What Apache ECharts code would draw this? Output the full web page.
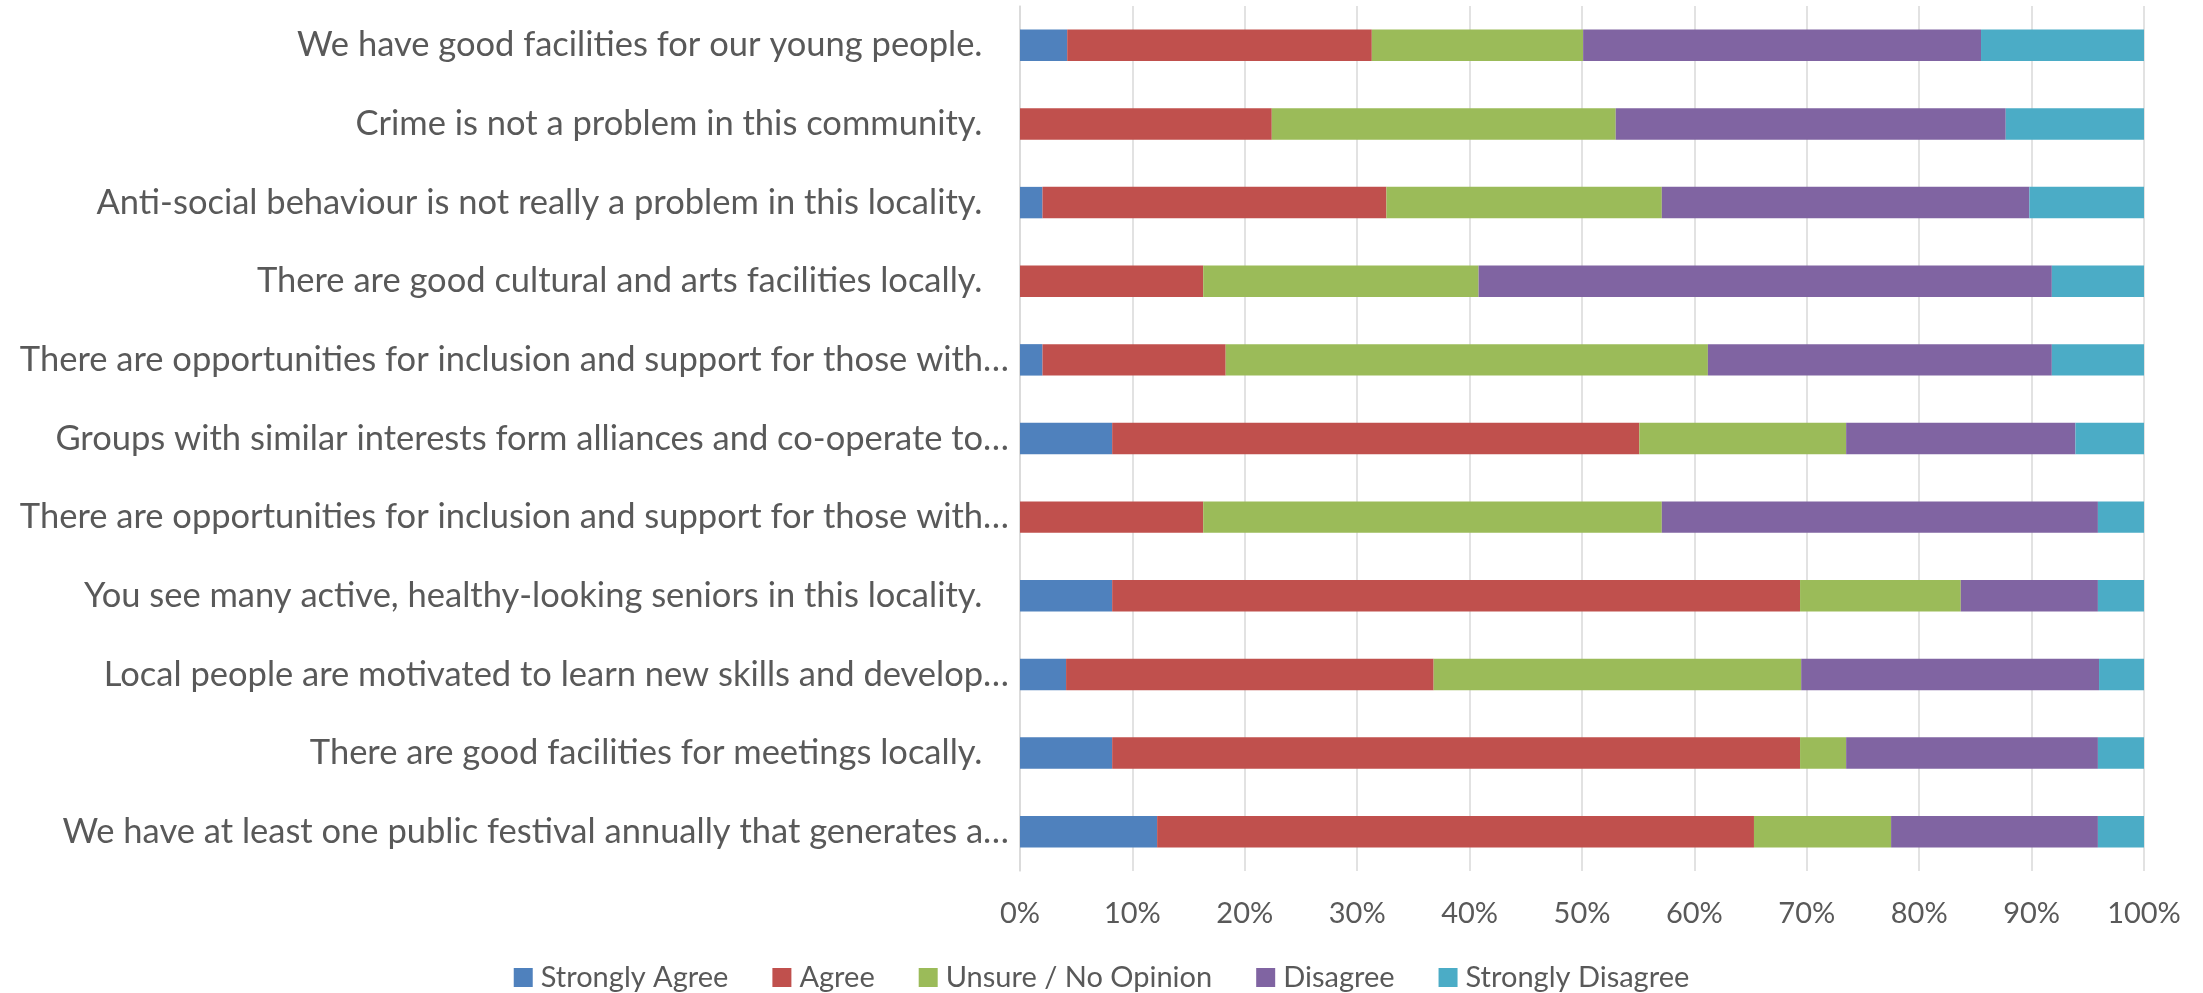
<!DOCTYPE html>
<html>
<head>
<meta charset="utf-8">
<script src="https://cdn.jsdelivr.net/npm/echarts@6/dist/echarts.min.js"></script>
<style>html,body{margin:0;padding:0;background:#fff}#c{width:2203px;height:993px}</style>
</head>
<body>
<div id="c"></div>
<script>
const categories = [
  "We have good facilities for our young people.   ",
  "Crime is not a problem in this community.   ",
  "Anti-social behaviour is not really a problem in this locality.   ",
  "There are good cultural and arts facilities locally.   ",
  "There are opportunities for inclusion and support for those with…",
  "Groups with similar interests form alliances and co-operate to…",
  "There are opportunities for inclusion and support for those with…",
  "You see many active, healthy-looking seniors in this locality.   ",
  "Local people are motivated to learn new skills and develop…",
  "There are good facilities for meetings locally.   ",
  "We have at least one public festival annually that generates a…"
];
const stronglyAgree    = [4.2, 0,    2.0,  0,    2.0,  8.2,  0,    8.2,  4.1,  8.2,  12.2];
const agree            = [27.1, 22.4, 30.6, 16.3, 16.3, 46.9, 16.3, 61.2, 32.7, 61.2, 53.1];
const unsure           = [18.8, 30.6, 24.5, 24.5, 42.9, 18.4, 40.8, 14.3, 32.7, 4.1,  12.2];
const disagree         = [35.4, 34.7, 32.7, 51.0, 30.6, 20.4, 38.8, 12.2, 26.5, 22.4, 18.4];
const stronglyDisagree = [14.6, 12.3, 10.2, 8.2,  8.2,  6.1,  4.1,  4.1,  4.1,  4.1,  4.1];
const seriesNames = ["Strongly Agree", "Agree", "Unsure / No Opinion", "Disagree", "Strongly Disagree"];
const seriesData = [stronglyAgree, agree, unsure, disagree, stronglyDisagree];
const colors = ["#4F81BD", "#C0504D", "#9BBB59", "#8064A2", "#4BACC6"];

const FONT = "Lato";
const chart = echarts.init(document.getElementById('c'), null, {renderer: 'canvas'});
chart.setOption({
  animation: false,
  color: colors,
  textStyle: {fontFamily: FONT},
  grid: {left: 1020, right: 59, top: 6, bottom: 122, containLabel: false},
  legend: {
    top: 958, left: 'center',
    itemWidth: 19, itemHeight: 19, itemGap: 44,
    icon: 'rect',
    textStyle: {fontFamily: FONT, fontSize: 29, color: '#595959', padding: [0,0,0,3]},
    data: seriesNames
  },
  xAxis: {
    type: 'value', min: 0, max: 100, interval: 10,
    axisLabel: {formatter: '{value}%', fontFamily: FONT, fontSize: 29, color: '#595959', margin: 28},
    axisLine: {show: false}, axisTick: {show: false},
    splitLine: {show: true, lineStyle: {color: '#D9D9D9', width: 1.5}}
  },
  yAxis: {
    type: 'category', inverse: true, data: categories,
    axisLine: {show: true, lineStyle: {color: '#D9D9D9', width: 1.5}},
    axisTick: {show: false},
    axisLabel: {fontFamily: FONT, fontSize: 34.5, color: '#595959', margin: 11}
  },
  series: seriesNames.map((n, i) => ({
    name: n, type: 'bar', stack: 'total', barCategoryGap: '60%',
    data: seriesData[i],
    itemStyle: {color: colors[i]}
  }))
});
</script>
</body>
</html>
